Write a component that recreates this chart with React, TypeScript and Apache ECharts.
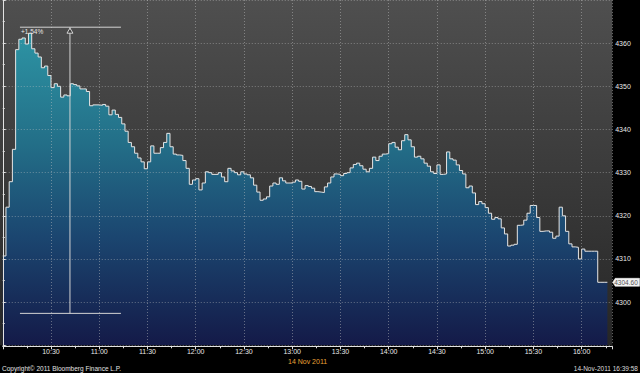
import React, { useEffect, useRef } from "react";
import * as echarts from "echarts";

// ---- data ----
const START_HOUR = 10; // first sample at 10:00
const STEP_MIN = 2; // minutes between samples
const prices = [
  4310.7, 4322.0, 4327.9, 4335.4, 4358.5, 4360.9, 4361.2, 4359.8, 4362.3, 4358.7,
  4357.7, 4356.8, 4354.3, 4354.7, 4352.5, 4349.7, 4350.6, 4350.0, 4347.5, 4348.0,
  4347.8, 4350.6, 4350.4, 4350.1, 4349.4, 4349.4, 4348.8, 4345.5, 4345.7, 4345.7,
  4345.6, 4345.8, 4345.4, 4343.4, 4344.5, 4343.5, 4342.8, 4341.3, 4339.6, 4337.0,
  4336.0, 4334.5, 4333.4, 4332.5, 4330.9, 4332.5, 4336.2, 4334.5, 4334.5, 4335.8,
  4337.0, 4339.1, 4336.0, 4334.3, 4334.1, 4334.0, 4332.8, 4331.0, 4327.3, 4328.3,
  4328.6, 4326.0, 4327.6, 4330.2, 4330.0, 4329.6, 4329.6, 4330.0, 4329.0, 4327.9,
  4331.0, 4330.4, 4330.0, 4329.5, 4330.2, 4329.7, 4329.5, 4328.8, 4327.1, 4325.5,
  4323.6, 4323.9, 4324.4, 4326.9, 4327.6, 4327.3, 4328.8, 4328.1, 4327.6, 4327.6,
  4327.8, 4328.3, 4328.0, 4326.2, 4327.0, 4326.8, 4326.4, 4325.6, 4325.5, 4325.4,
  4326.7, 4327.6, 4329.0, 4329.7, 4329.6, 4329.3, 4329.8, 4330.0, 4331.1, 4331.9,
  4332.2, 4331.6, 4330.8, 4330.2, 4331.0, 4333.6, 4332.8, 4333.8, 4334.3, 4334.4,
  4336.7, 4337.0, 4335.9, 4335.3, 4337.4, 4338.8, 4337.6, 4336.0, 4333.6, 4333.8,
  4333.2, 4332.2, 4331.5, 4330.2, 4329.8, 4331.8, 4329.6, 4329.7, 4334.8, 4333.2,
  4332.9, 4331.8, 4330.5, 4329.7, 4326.5, 4326.9, 4325.3, 4322.6, 4323.3, 4322.8,
  4321.9, 4320.6, 4319.2, 4319.6, 4319.3, 4317.2, 4315.8, 4313.0, 4313.2, 4313.4,
  4317.8, 4317.9, 4319.0, 4320.6, 4322.4, 4322.4, 4319.6, 4316.4, 4316.5, 4316.5,
  4316.2, 4314.8, 4315.3, 4322.0, 4320.0, 4316.4, 4313.5, 4312.8, 4312.7, 4310.0,
  4312.3, 4311.8, 4311.8, 4311.8, 4311.8, 4304.6, 4304.6, 4304.6, 4304.6,
];
const lastPrice = 4304.6;
const yMin = 4290;
const yMax = 4370;
const yStep = 10;
const xMaxMin = 379; // minutes after 10:00 at the right edge

// measurement tool drawn on the chart
const measureHigh = 4363.7;
const measureLow = 4297.4;
const measureFrom = 10.7; // minutes
const measureTo = 73.5;
const measureAt = 41.8;
const measureText = "+1.54%";

const dateLabel = "14 Nov 2011";
const copyrightText = "Copyright\u00a9 2011 Bloomberg Finance L.P.";
const stampText = "14-Nov-2011 16:39:58";

const FONT = "Liberation Sans";

function fmtTime(m: number): string {
  const h = START_HOUR + Math.floor(m / 60);
  const mm = Math.round(m % 60);
  return `${h}:${String(mm).padStart(2, "0")}`;
}

export default function App() {
  const ref = useRef<HTMLDivElement>(null);

  useEffect(() => {
    document.body.style.margin = "0";
    document.body.style.background = "#000";
    if (!ref.current) return;
    const chart = echarts.init(ref.current, undefined, { renderer: "svg" });
    const data = prices.map((v, i) => [i * STEP_MIN, v]);
    const gridLine = { color: "rgba(200,200,200,0.45)", type: [1, 2] as any, width: 1 };
    const axisCol = "#e2e2e2";

    chart.setOption({
      animation: false,
      backgroundColor: "#000",
      grid: { left: 2.75, right: 27.8, top: -3.6, bottom: 27.7, containLabel: false },
      xAxis: {
        type: "value",
        min: 0,
        max: xMaxMin,
        interval: 30,
        z: 3,
        offset: 1,
        axisLine: { show: true, lineStyle: { color: axisCol, width: 1 } },
        axisTick: { show: true, length: 3, lineStyle: { color: axisCol } },
        minorTick: { show: true, splitNumber: 2, length: 2, lineStyle: { color: axisCol } },
        axisLabel: {
          color: "#e8e8e8",
          fontSize: 7,
          fontFamily: FONT,
          margin: 2,
          showMinLabel: false,
          showMaxLabel: false,
          formatter: (v: number) => (v > 0 && v % 30 === 0 ? fmtTime(v) : ""),
        },
        splitLine: { show: true, lineStyle: gridLine },
      },
      yAxis: {
        type: "value",
        position: "right",
        min: yMin,
        max: yMax,
        interval: yStep,
        z: 3,
        axisLine: { show: true, lineStyle: { color: axisCol, width: 1 } },
        axisTick: { show: true, length: 3, lineStyle: { color: axisCol } },
        minorTick: { show: true, splitNumber: 2, length: 2, lineStyle: { color: axisCol } },
        axisLabel: {
          color: "#e8e8e8",
          fontSize: 7,
          fontFamily: FONT,
          margin: 3,
          formatter: (v: number) => (v > yMin && v < yMax ? String(v) : ""),
        },
        splitLine: { show: true, lineStyle: gridLine },
      },
      series: [
        {
          type: "line",
          data,
          step: "end",
          symbol: "none",
          z: 2,
          lineStyle: { color: "#e6e6e6", width: 1 },
          areaStyle: {
            opacity: 1,
            color: new echarts.graphic.LinearGradient(0, 0, 0, 1, [
              { offset: 0, color: "#2d94a4" },
              { offset: 0.35, color: "#236f88" },
              { offset: 0.65, color: "#1b4670" },
              { offset: 1, color: "#141a48" },
            ]),
          },
        },
      ],
    });

    const px = (m: number, v: number) => chart.convertToPixel({ gridIndex: 0 }, [m, v]) as number[];
    const tl = px(measureFrom, measureHigh);
    const tr = px(measureTo, measureHigh);
    const bl = px(measureFrom, measureLow);
    const br = px(measureTo, measureLow);
    const vt = px(measureAt, measureHigh);
    const vb = px(measureAt, measureLow);
    const lp = px(xMaxMin, lastPrice);
    const bottomRight = px(xMaxMin, yMin);
    const lineStyle = { stroke: "#d4d4d4", lineWidth: 1 };

    chart.setOption({
      graphic: [
        {
          type: "rect",
          z: -10,
          silent: true,
          shape: { x: 0, y: 0, width: bottomRight[0], height: bottomRight[1] },
          style: {
            fill: new echarts.graphic.LinearGradient(0, 0, 0, 1, [
              { offset: 0, color: "#4f4f4f" },
              { offset: 1, color: "#262626" },
            ]),
          },
        },
        { type: "line", z: 10, shape: { x1: tl[0], y1: tl[1], x2: tr[0], y2: tr[1] }, style: lineStyle },
        { type: "line", z: 10, shape: { x1: bl[0], y1: bl[1], x2: br[0], y2: br[1] }, style: lineStyle },
        { type: "line", z: 10, shape: { x1: vt[0], y1: vt[1], x2: vb[0], y2: vb[1] }, style: lineStyle },
        {
          type: "polygon",
          z: 11,
          shape: {
            points: [
              [vt[0], vt[1] + 1],
              [vt[0] - 3, vt[1] + 6],
              [vt[0] + 3, vt[1] + 6],
            ],
          },
          style: { fill: "#3a3a3a", stroke: "#d4d4d4", lineWidth: 1 },
        },
        {
          type: "text",
          z: 11,
          x: tl[0] + 1,
          y: tl[1] + 4.5,
          style: {
            text: measureText,
            fill: "#e8e8e8",
            fontSize: 6.5,
            fontFamily: FONT,
            verticalAlign: "middle",
            align: "left",
          },
        },
        {
          type: "polygon",
          z: 11,
          shape: {
            points: [
              [lp[0] + 0.5, lp[1]],
              [lp[0] + 3, lp[1] - 4],
              [639.5, lp[1] - 4],
              [639.5, lp[1] + 4],
              [lp[0] + 3, lp[1] + 4],
            ],
          },
          style: { fill: "#f2f2f2", stroke: "#ffffff", lineWidth: 0.5 },
        },
        {
          type: "text",
          z: 12,
          x: 626,
          y: lp[1] + 0.5,
          style: {
            text: lastPrice.toFixed(2),
            fill: "#555555",
            fontSize: 6.5,
            fontFamily: FONT,
            verticalAlign: "middle",
            align: "center",
          },
        },
        {
          type: "text",
          z: 11,
          x: 288,
          y: 361,
          style: { text: dateLabel, fill: "#e9a236", fontSize: 7, fontFamily: FONT, verticalAlign: "middle" },
        },
        {
          type: "text",
          z: 11,
          x: 2,
          y: 368.5,
          style: { text: copyrightText, fill: "#e2e2e2", fontSize: 6.5, fontFamily: FONT, verticalAlign: "middle" },
        },
        {
          type: "text",
          z: 11,
          x: 638,
          y: 368.5,
          style: {
            text: stampText,
            fill: "#dcdcdc",
            fontSize: 6.5,
            fontFamily: FONT,
            verticalAlign: "middle",
            align: "right",
          },
        },
      ],
    });

    return () => chart.dispose();
  }, []);

  return <div ref={ref} style={{ width: 640, height: 373, background: "#000" }} />;
}
